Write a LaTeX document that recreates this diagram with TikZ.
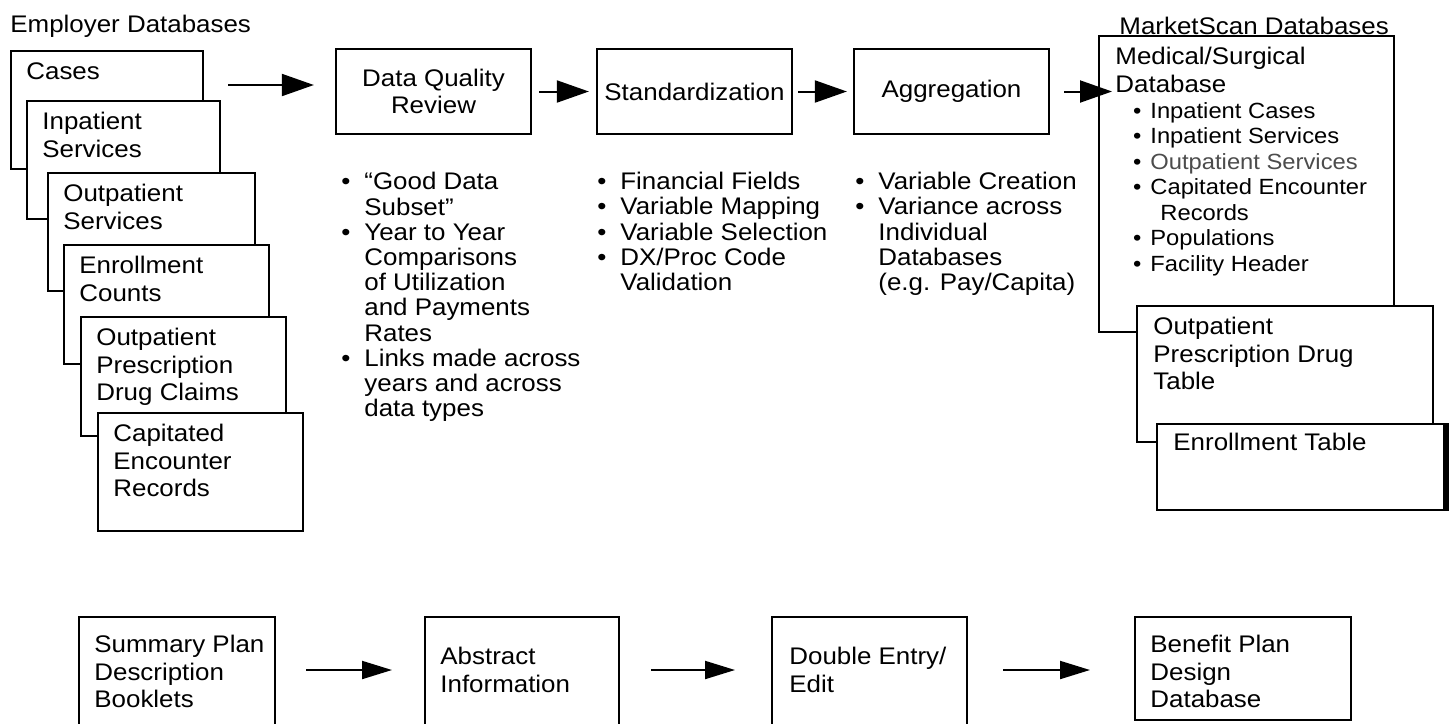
\documentclass[tikz,border=0pt]{standalone}
\usepackage{fontspec}
\setmainfont[FakeStretch=1.08]{Liberation Sans}
\usetikzlibrary{arrows.meta,calc}
\newcommand{\mainsz}{\fontsize{12}{13.7}\selectfont}
\newcommand{\notesz}{\fontsize{12}{12.6}\selectfont}
\newcommand{\subsz}{\fontsize{11}{12.75}\selectfont}
\newcommand{\blt}{\llap{\textbullet\hspace{7pt}}}
\newcommand{\bls}{\llap{\textbullet\hspace{4.5pt}}}

\begin{document}
\begin{tikzpicture}[
  x=0.5pt,y=-0.5pt,line join=miter,
  >={Triangle[length=16pt,width=11pt]},
  dbbox/.style={draw,fill=white,line width=1.15pt,inner sep=0pt,anchor=north west},
  stepbox/.style={draw,fill=white,line width=1.15pt,inner sep=0pt,
    minimum width=97.5pt,minimum height=42.5pt,align=center,font=\mainsz},
  txt/.style={anchor=north west,inner sep=0pt,align=left,font=\mainsz},
  notes/.style={txt,font=\notesz},
  subtxt/.style={txt,font=\subsz},
  flow/.style={->,line width=1pt},
  lowflow/.style={-{Triangle[length=15pt,width=9pt]},line width=1pt}
]
\useasboundingbox (0,0) rectangle (1449,723);
\clip (0,0) rectangle (1449,723);
\fill[white] (0,0) rectangle (1449,723);

% Employer files, stacked so that each one covers the one before it.
\node[txt] (emp-title) at (10,15) {Employer Databases};
\foreach \n/\l/\t/\w/\h/\s in {
    cases/10/50/192/118/{Cases},
    inpat/26/100/193/118/{Inpatient\\Services},
    outsvc/47/172/207/118/{Outpatient\\Services},
    enrcnt/63/244/205/119/{Enrollment\\Counts},
    rxclm/80/316/205/119/{Outpatient\\Prescription\\Drug Claims},
    capenc/97/412/205/118/{Capitated\\Encounter\\Records}} {
  \node[dbbox,minimum width=\w*0.5pt,minimum height=\h*0.5pt] (\n) at (\l,\t) {};
  \node[txt] (\n-t) at ([shift={(16,12)}]\n.north west) {\s};
}

% Processing steps with their notes underneath.
\node[stepbox] (dqr) at (433.5,91.5) {Data Quality\\Review};
\node[stepbox] (std) at (694.5,91.5) {Standardization};
\node[stepbox] (agg) at (951.5,91.5) {Aggregation};

\node[notes] (dqr-notes) at (364,172) {\blt “Good Data\\
  Subset”\\
  \blt Year to Year\\
  Comparisons\\
  of Utilization\\
  and Payments\\
  Rates\\
  \blt Links made across\\
  years and across\\
  data types};
\node[notes] (std-notes) at (620,172) {\blt Financial Fields\\
  \blt Variable Mapping\\
  \blt Variable Selection\\
  \blt DX/Proc Code\\
  Validation};
\node[notes] (agg-notes) at (878,172) {\blt Variable Creation\\
  \blt Variance across\\
  Individual\\
  Databases\\
  (e.g. Pay/Capita)};

% MarketScan output tables.
\node[txt] (ms-title) at (1119,17) {MarketScan Databases};
\node[dbbox,minimum width=147.5pt,minimum height=148pt] (med) at (1098,35) {};
\node[txt] (med-t) at ([shift={(17,12)}]med.north west) {Medical/Surgical\\Database};
\node[subtxt] (med-list) at ([shift={(52,67)}]med.north west) {\bls Inpatient Cases\\
  \bls Inpatient Services\\
  \bls \textcolor{black!70}{Outpatient Services}\\
  \bls Capitated Encounter\\
  \hspace*{5pt}Records\\
  \bls Populations\\
  \bls Facility Header};
\node[dbbox,minimum width=148pt,minimum height=68pt] (rxtab) at (1136,305) {};
\node[txt] (rxtab-t) at ([shift={(17,12)}]rxtab.north west) {Outpatient\\Prescription Drug\\Table};
\node[dbbox,minimum width=143.5pt,minimum height=43pt] (enrtab) at (1156,423) {};
\node[txt] (enrtab-t) at ([shift={(17,10)}]enrtab.north west) {Enrollment Table};
\draw[line width=2.2pt] ([xshift=0.5pt]enrtab.north east) -- ([xshift=0.5pt]enrtab.south east);

\coordinate (feed) at (228,85);
\draw[flow] (feed) -- ($(feed -| dqr.west)+(-21,0)$);
\draw[flow,shorten <=3.5pt,shorten >=3.5pt] (dqr.east) -- (std.west);
\draw[flow,shorten <=2.5pt,shorten >=3pt] (std.east) -- (agg.west);
\draw[flow,shorten <=7pt] (agg.east) -- ($(agg.east -| med.west)+(14,0)$);

% Benefit plan chain (boxes run off the bottom edge).
\node[dbbox,minimum width=98pt,minimum height=70pt] (spd) at (78,616) {};
\node[txt] (spd-t) at ([shift={(16,19)}]spd.north west) {Summary Plan\\Description\\Booklets};
\node[dbbox,minimum width=97pt,minimum height=70pt] (abs) at (424,616) {};
\node[txt] (abs-t) at ([shift={(16,31)}]abs.north west) {Abstract\\Information};
\node[dbbox,minimum width=97.5pt,minimum height=70pt] (dee) at (771,616) {};
\node[txt] (dee-t) at ([shift={(18,31)}]dee.north west) {Double Entry/\\Edit};
\node[dbbox,minimum width=108pt,minimum height=51.5pt] (bpd) at (1134,616) {};
\node[txt] (bpd-t) at ([shift={(16,19)}]bpd.north west) {Benefit Plan\\Design\\Database};

\coordinate (plan) at (0,670);
\draw[lowflow,shorten <=15pt,shorten >=16pt] (spd.east |- plan) -- (abs.west |- plan);
\draw[lowflow,shorten <=15.5pt,shorten >=18pt] (abs.east |- plan) -- (dee.west |- plan);
\draw[lowflow,shorten <=17.5pt,shorten >=22pt] (dee.east |- plan) -- (bpd.west |- plan);

\end{tikzpicture}
\end{document}
